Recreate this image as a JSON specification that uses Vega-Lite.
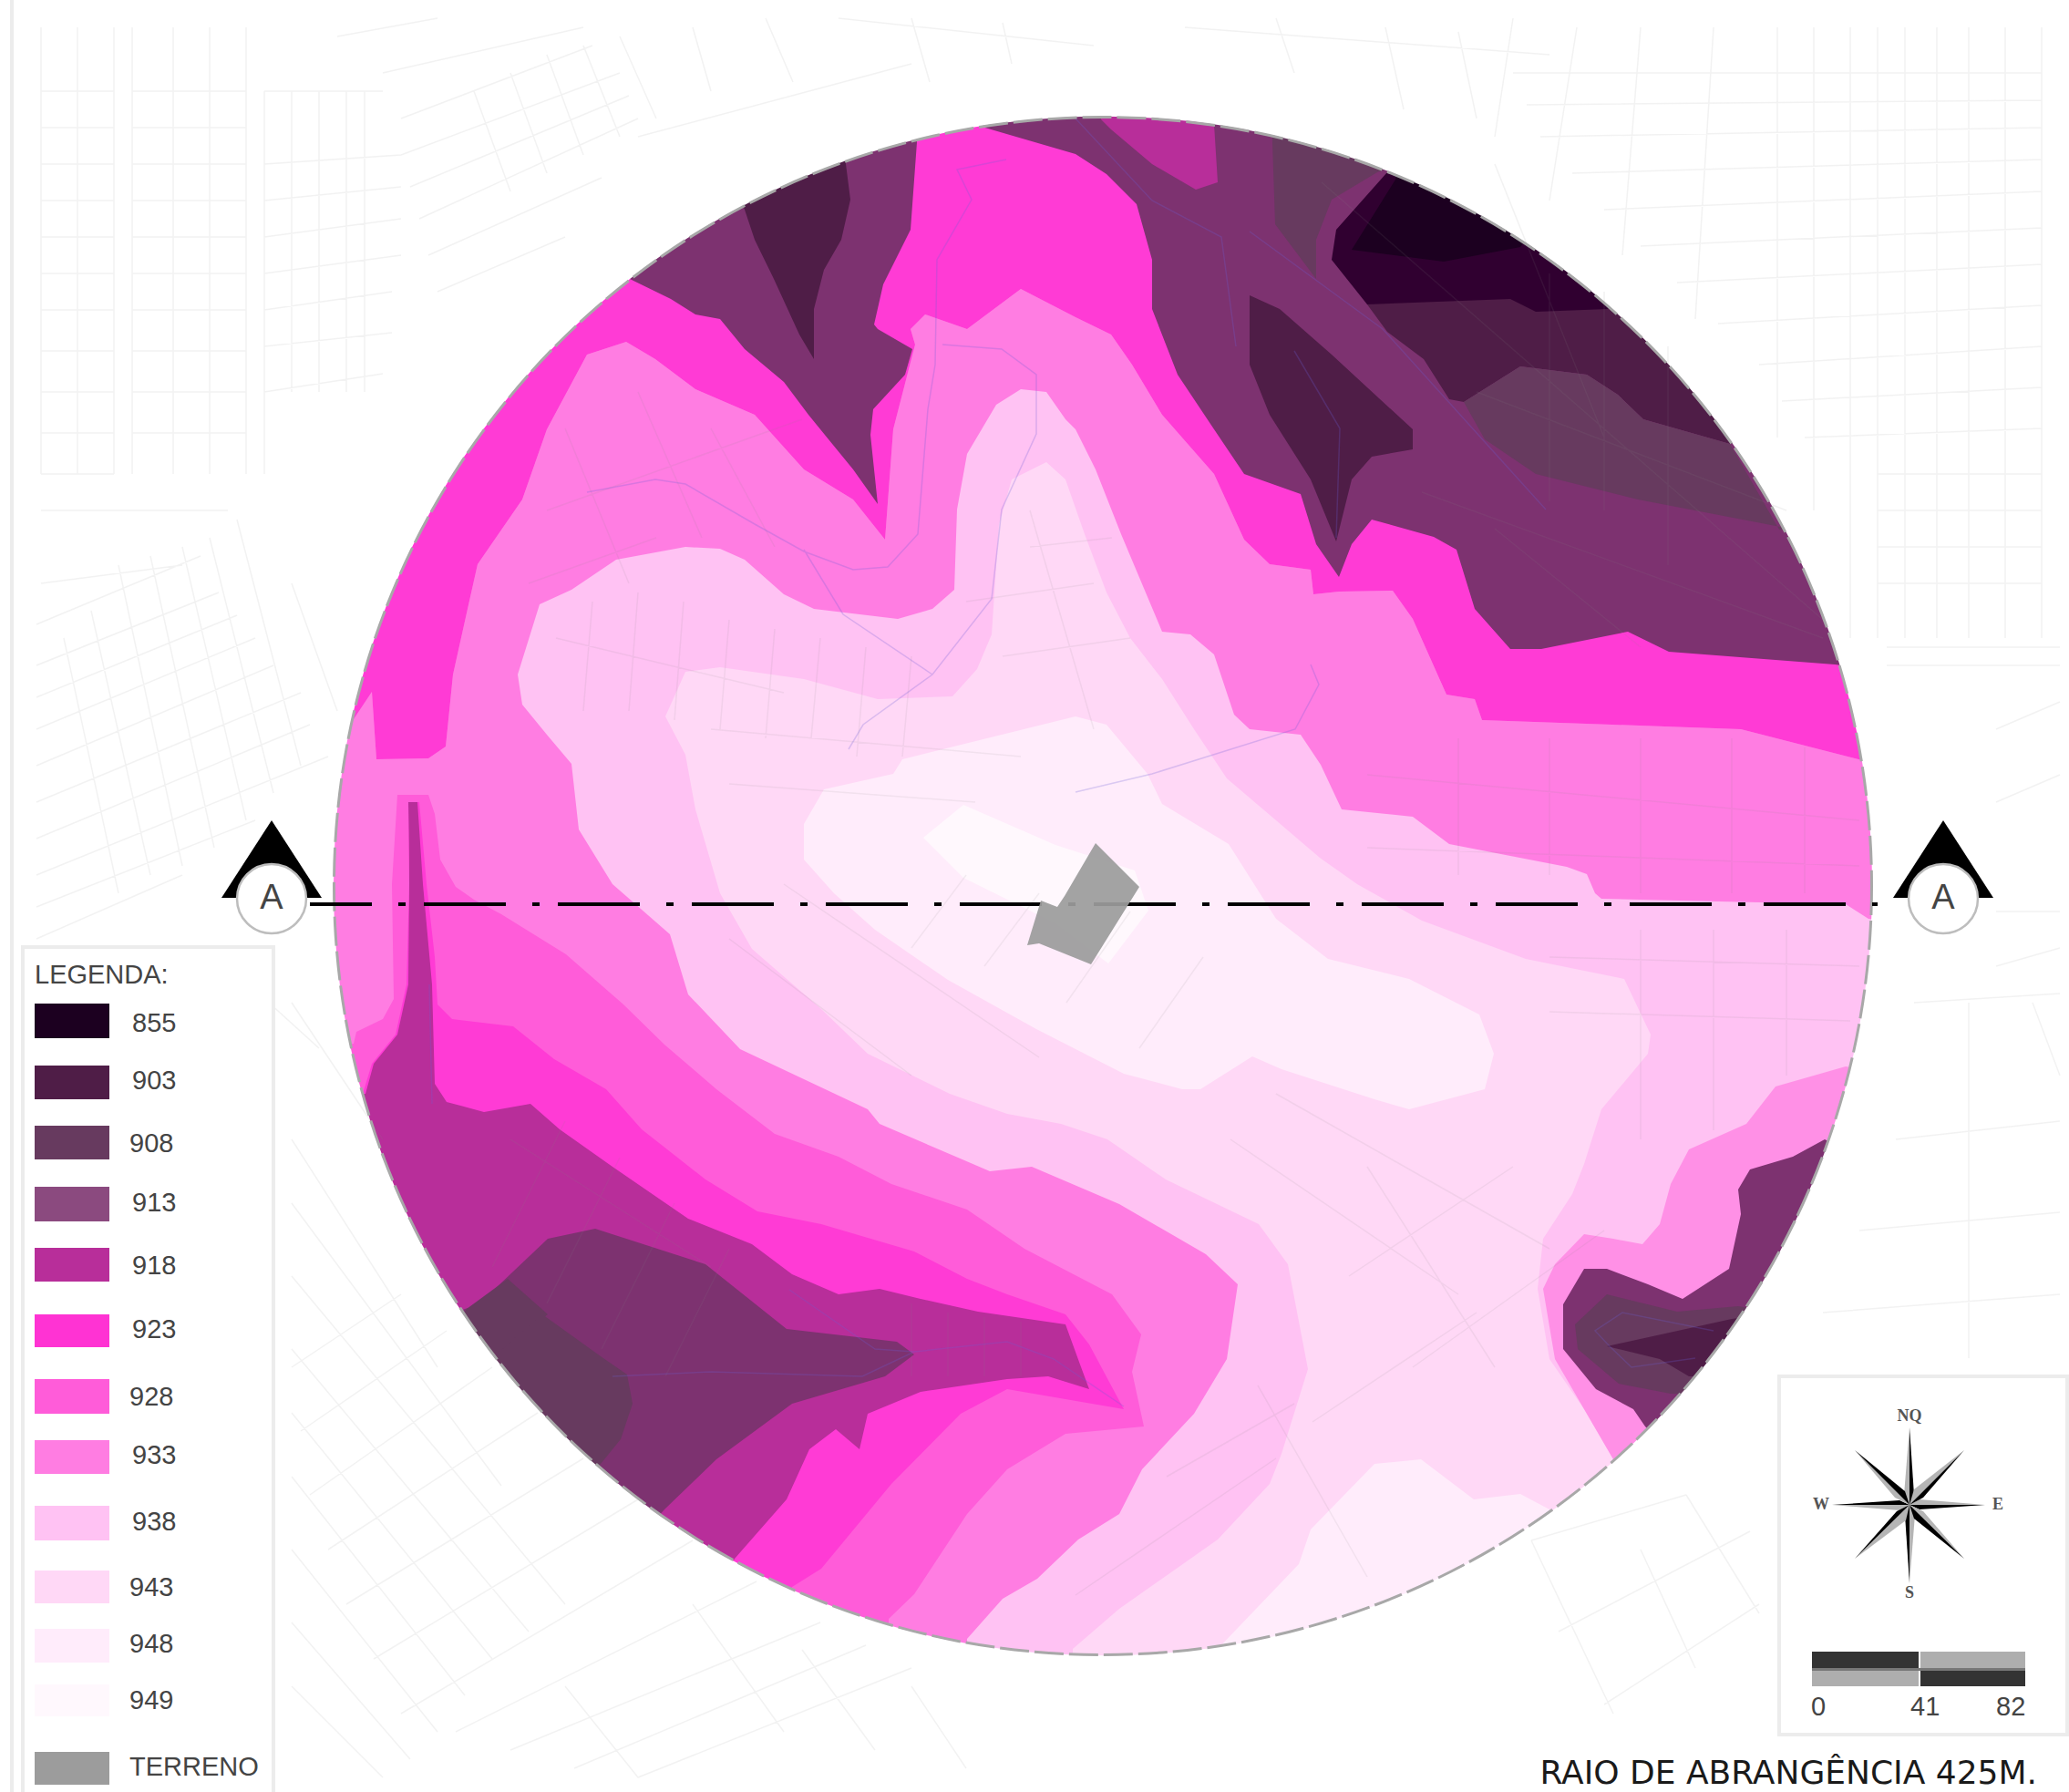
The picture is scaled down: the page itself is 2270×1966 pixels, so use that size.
{
"$schema":"https://vega.github.io/schema/vega-lite/v6.json",
"width":2270,"height":1966,"padding":0,"autosize":{"type":"none"},"background":"white",
"config":{"view":{"stroke":null}},
"projection":{"type":"identity","scale":1,"translate":[0,0]},
"datasets":{
"disc":[{"x":1210,"y":972}],
"contours":[
{"type":"Feature","properties":{"k":"913"},"geometry":{"type":"Polygon","coordinates":[[[695,308],[736,328],[763,345],[790,350],[817,383],[860,419],[887,455],[909,482],[936,515],[963,553],[955,477],[958,449],[993,411],[1001,383],[963,361],[959,356],[969,312],[999,252],[1006,156],[1006,100],[800,170],[640,280],[695,308]]]}},
{"type":"Feature","properties":{"k":"903"},"geometry":{"type":"Polygon","coordinates":[[[810,215],[817,230],[828,263],[849,306],[877,367],[893,394],[893,339],[904,296],[923,263],[933,219],[928,180],[925,150],[810,215]]]}},
{"type":"Feature","properties":{"k":"913"},"geometry":{"type":"Polygon","coordinates":[[[1077,139],[1180,169],[1214,191],[1247,224],[1264,285],[1264,339],[1292,411],[1332,471],[1365,520],[1427,542],[1444,597],[1469,633],[1483,597],[1505,570],[1573,589],[1598,603],[1618,668],[1657,712],[1691,712],[1786,693],[1831,715],[2013,729],[2110,740],[2000,440],[1700,180],[1400,90],[1077,100],[1077,139]]]}},
{"type":"Feature","properties":{"k":"918"},"geometry":{"type":"Polygon","coordinates":[[[1208,110],[1208,131],[1219,142],[1264,180],[1312,208],[1336,200],[1332,136],[1332,100],[1208,110]]]}},
{"type":"Feature","properties":{"k":"903"},"geometry":{"type":"Polygon","coordinates":[[[1371,324],[1404,339],[1461,389],[1550,471],[1550,493],[1505,501],[1483,526],[1466,594],[1438,526],[1393,455],[1371,400],[1371,324]]]}},
{"type":"Feature","properties":{"k":"908"},"geometry":{"type":"Polygon","coordinates":[[[1396,120],[1396,156],[1399,246],[1444,306],[1444,263],[1461,219],[1511,189],[1560,170],[1396,120]]]}},
{"type":"Feature","properties":{"k":"903"},"geometry":{"type":"Polygon","coordinates":[[[1500,334],[1522,364],[1562,394],[1590,438],[1606,441],[1668,402],[1741,411],[1775,433],[1803,460],[1898,487],[1960,480],[1800,300],[1657,310],[1500,334]]]}},
{"type":"Feature","properties":{"k":"908"},"geometry":{"type":"Polygon","coordinates":[[[1606,441],[1668,402],[1741,411],[1775,433],[1803,460],[1898,487],[1952,581],[1990,585],[1797,548],[1685,520],[1629,482],[1606,441]]]}},
{"type":"Feature","properties":{"k":"dk"},"geometry":{"type":"Polygon","coordinates":[[[1522,189],[1466,252],[1461,285],[1500,334],[1657,328],[1685,342],[1764,339],[1800,300],[1560,130],[1522,189]]]}},
{"type":"Feature","properties":{"k":"855"},"geometry":{"type":"Polygon","coordinates":[[[1531,197],[1483,274],[1584,287],[1668,271],[1700,230],[1540,150],[1531,197]]]}},
{"type":"Feature","properties":{"k":"918"},"geometry":{"type":"Polygon","coordinates":[[[448,880],[458,880],[464,970],[474,1080],[477,1189],[490,1209],[531,1220],[582,1211],[614,1239],[672,1280],[755,1337],[825,1365],[869,1398],[920,1420],[965,1414],[1010,1425],[1073,1439],[1169,1453],[1185,1497],[1195,1524],[1150,1510],[1105,1513],[1010,1527],[952,1551],[943,1590],[917,1568],[888,1590],[863,1645],[806,1710],[780,1760],[600,1650],[400,1350],[340,1200],[401,1200],[410,1167],[436,1135],[448,1080],[449,970],[448,880]]]}},
{"type":"Feature","properties":{"k":"913"},"geometry":{"type":"Polygon","coordinates":[[[525,1431],[601,1359],[653,1348],[774,1387],[863,1458],[984,1472],[1003,1486],[971,1510],[869,1540],[786,1601],[729,1656],[690,1700],[470,1450],[525,1431]]]}},
{"type":"Feature","properties":{"k":"908"},"geometry":{"type":"Polygon","coordinates":[[[512,1436],[557,1403],[601,1442],[544,1486],[500,1455],[512,1436]]]}},
{"type":"Feature","properties":{"k":"908"},"geometry":{"type":"Polygon","coordinates":[[[544,1486],[595,1442],[659,1488],[688,1508],[694,1540],[681,1579],[659,1606],[640,1625],[520,1500],[544,1486]]]}},
{"type":"Feature","properties":{"k":"928"},"geometry":{"type":"Polygon","coordinates":[[[340,790],[386,792],[408,759],[413,833],[470,832],[489,819],[497,740],[513,668],[524,619],[573,548],[600,471],[644,389],[687,375],[719,394],[763,427],[828,455],[882,515],[936,548],[971,592],[980,471],[1004,378],[999,361],[1015,345],[1061,361],[1120,317],[1180,348],[1219,367],[1242,400],[1275,455],[1332,520],[1365,592],[1393,619],[1438,625],[1441,652],[1469,649],[1528,648],[1550,679],[1587,762],[1618,767],[1626,790],[1769,795],[1910,800],[2039,833],[2110,850],[2110,1300],[1800,1700],[1400,1860],[869,1790],[869,1741],[901,1721],[978,1628],[1054,1551],[1105,1524],[1233,1546],[1195,1475],[1169,1442],[1105,1420],[1061,1403],[1003,1373],[901,1343],[831,1329],[774,1294],[704,1239],[665,1195],[608,1162],[563,1126],[496,1118],[480,1102],[477,1050],[468,970],[460,880],[448,880],[449,970],[446,1080],[434,1135],[408,1167],[398,1200],[340,1200],[340,790]]]}},
{"type":"Feature","properties":{"k":"933"},"geometry":{"type":"Polygon","coordinates":[[[340,790],[386,792],[408,759],[413,833],[470,832],[489,819],[497,740],[513,668],[524,619],[573,548],[600,471],[644,389],[687,375],[719,394],[763,427],[828,455],[882,515],[936,548],[971,592],[980,471],[1004,378],[999,361],[1015,345],[1061,361],[1120,317],[1180,348],[1219,367],[1242,400],[1275,455],[1332,520],[1365,592],[1393,619],[1438,625],[1441,652],[1469,649],[1528,648],[1550,679],[1587,762],[1618,767],[1626,790],[1769,795],[1910,800],[2039,833],[2110,850],[2110,1400],[1800,1700],[1400,1860],[1050,1860],[975,1810],[975,1776],[1003,1749],[1061,1661],[1105,1612],[1169,1573],[1255,1565],[1242,1505],[1252,1464],[1220,1420],[1124,1370],[1061,1327],[978,1299],[920,1269],[850,1244],[786,1195],[729,1146],[684,1102],[621,1047],[550,1003],[520,987],[500,973],[483,943],[477,893],[470,872],[436,872],[430,970],[432,1096],[420,1118],[391,1132],[388,1145],[340,1150],[340,790]]]}},
{"type":"Feature","properties":{"k":"938"},"geometry":{"type":"Polygon","coordinates":[[[568,740],[592,663],[627,647],[676,614],[752,600],[790,602],[817,614],[860,652],[893,668],[985,679],[1023,668],[1047,647],[1050,559],[1061,498],[1093,444],[1120,427],[1148,430],[1169,460],[1180,471],[1202,515],[1230,586],[1275,693],[1306,696],[1332,718],[1354,784],[1371,800],[1427,806],[1449,839],[1472,888],[1550,896],[1590,926],[1719,951],[1741,959],[1750,980],[1757,986],[1885,989],[2025,992],[2050,1008],[2100,1015],[2100,1400],[1800,1700],[1500,1860],[1061,1860],[1061,1798],[1100,1754],[1138,1732],[1183,1689],[1228,1661],[1253,1612],[1310,1551],[1346,1491],[1358,1409],[1323,1376],[1228,1321],[1132,1280],[1086,1285],[965,1233],[952,1217],[812,1151],[755,1091],[735,1025],[672,970],[635,910],[627,838],[600,806],[573,773],[568,740]]]}},
{"type":"Feature","properties":{"k":"943"},"geometry":{"type":"Polygon","coordinates":[[[1190,586],[1214,650],[1240,700],[1275,745],[1310,800],[1346,854],[1400,900],[1448,941],[1489,970],[1560,1010],[1674,1052],[1782,1074],[1811,1135],[1808,1156],[1757,1217],[1738,1277],[1725,1310],[1693,1359],[1687,1414],[1700,1491],[1738,1546],[1770,1601],[1750,1700],[1500,1860],[1177,1860],[1177,1809],[1228,1765],[1336,1689],[1393,1628],[1406,1595],[1435,1502],[1413,1387],[1381,1343],[1279,1294],[1215,1250],[1164,1233],[1105,1222],[1042,1200],[952,1156],[901,1107],[825,1041],[790,980],[763,888],[752,828],[730,786],[752,737],[790,732],[882,745],[963,767],[1045,764],[1072,734],[1088,696],[1096,575],[1110,526],[1148,507],[1169,526],[1190,586]]]}},
{"type":"Feature","properties":{"k":"948"},"geometry":{"type":"Polygon","coordinates":[[[915,980],[960,1020],[1040,1075],[1137,1129],[1233,1178],[1297,1195],[1317,1195],[1374,1159],[1406,1173],[1508,1206],[1546,1217],[1629,1195],[1639,1156],[1623,1113],[1546,1074],[1457,1052],[1400,1008],[1348,926],[1275,882],[1259,849],[1214,795],[1180,786],[1099,806],[990,833],[980,849],[904,866],[882,904],[882,943],[915,980]]]}},
{"type":"Feature","properties":{"k":"948"},"geometry":{"type":"Polygon","coordinates":[[[1336,1809],[1425,1716],[1438,1678],[1508,1606],[1559,1601],[1617,1645],[1668,1639],[1700,1656],[1720,1720],[1400,1860],[1336,1860],[1336,1809]]]}},
{"type":"Feature","properties":{"k":"949"},"geometry":{"type":"Polygon","coordinates":[[[1013,919],[1057,883],[1158,927],[1245,955],[1260,999],[1216,1057],[1158,1013],[1057,963],[1013,919]]]}},
{"type":"Feature","properties":{"k":"lobe"},"geometry":{"type":"Polygon","coordinates":[[[2025,1170],[1948,1192],[1916,1233],[1853,1261],[1833,1299],[1821,1343],[1802,1365],[1770,1359],[1738,1354],[1706,1387],[1693,1414],[1706,1491],[1738,1546],[1770,1601],[1800,1640],[1900,1560],[2050,1300],[2080,1180],[2025,1170]]]}},
{"type":"Feature","properties":{"k":"913"},"geometry":{"type":"Polygon","coordinates":[[[2002,1250],[1967,1269],[1920,1283],[1907,1305],[1910,1332],[1897,1392],[1846,1425],[1808,1409],[1763,1392],[1738,1392],[1715,1431],[1715,1480],[1751,1524],[1792,1546],[1805,1565],[1830,1590],[2040,1270],[2002,1250]]]}},
{"type":"Feature","properties":{"k":"908"},"geometry":{"type":"Polygon","coordinates":[[[1907,1433],[1840,1439],[1763,1420],[1728,1453],[1731,1480],[1776,1518],[1833,1529],[1880,1530],[1950,1440],[1907,1433]]]}},
{"type":"Feature","properties":{"k":"903"},"geometry":{"type":"Polygon","coordinates":[[[1763,1477],[1900,1447],[1950,1440],[1890,1510],[1853,1510],[1821,1491],[1763,1477]]]}}
],
"streets":[
{"type":"Feature","properties":{"k":"s"},"geometry":{"type":"MultiLineString","coordinates":[
[[45,30],[45,520]],[[85,30],[85,520]],[[125,30],[125,520]],[[45,100],[125,100]],[[45,140],[125,140]],[[45,180],[125,180]],[[45,220],[125,220]],[[45,260],[125,260]],[[45,300],[125,300]],[[45,340],[125,340]],[[45,385],[125,385]],[[45,430],[125,430]],[[45,475],[125,475]],[[45,520],[125,520]],
[[145,30],[145,520]],[[190,30],[190,520]],[[230,30],[230,520]],[[270,30],[270,520]],[[145,100],[270,100]],[[145,140],[270,140]],[[145,180],[270,180]],[[145,220],[270,220]],[[145,260],[270,260]],[[145,300],[270,300]],[[145,340],[270,340]],[[145,385],[270,385]],[[145,430],[270,430]],[[145,475],[270,475]],
[[290,100],[420,100]],[[290,180],[440,170]],[[290,260],[440,240]],[[290,340],[430,320]],[[290,100],[290,520]],[[320,100],[320,430]],[[350,100],[350,430]],[[380,100],[380,430]],[[400,100],[400,430]],[[290,430],[420,410]],[[290,220],[440,205]],[[290,300],[440,280]],[[290,380],[430,365]],
[[370,40],[480,20]],[[420,80],[640,30]],[[440,170],[680,80]],[[460,240],[700,130]],[[480,320],[620,260]],[[440,130],[650,50]],[[450,205],[690,105]],[[470,280],[660,195]],[[520,100],[560,210]],[[560,80],[600,190]],[[600,60],[640,170]],[[640,50],[680,150]],[[680,40],[720,130]],
[[760,30],[780,100]],[[840,20],[870,90]],[[920,20],[1200,50]],[[700,150],[1000,70]],[[1000,20],[1020,90]],[[1100,25],[1110,70]],[[1300,30],[1700,60]],[[1400,20],[1420,80]],[[1520,30],[1540,120]],[[1600,35],[1620,130]],
[[1660,20],[1640,150]],[[1730,30],[1700,220]],[[1800,30],[1780,280]],[[1880,30],[1860,350]],[[1660,80],[2240,80]],[[1690,150],[2240,140]],[[1760,230],[2240,210]],[[1840,310],[2240,290]],[[1930,400],[2240,380]],[[1980,480],[2240,470]],[[1675,115],[2240,110]],[[1725,190],[2240,175]],[[1800,270],[2240,250]],[[1885,355],[2240,335]],[[1955,440],[2240,425]],
[[1950,30],[1950,480]],[[1990,30],[1990,560]],[[2030,30],[2030,700]],[[2060,30],[2060,700]],[[2090,30],[2090,700]],[[2125,30],[2125,700]],[[2160,30],[2160,700]],[[2200,30],[2200,700]],[[2240,30],[2240,700]],[[2060,520],[2240,520]],[[2060,560],[2240,560]],[[2060,600],[2240,600]],[[2060,640],[2240,640]],[[2070,710],[2260,710]],[[2070,730],[2260,730]],
[[2190,800],[2260,770]],[[2190,880],[2260,850]],[[2190,1000],[2260,1000]],[[2190,1060],[2260,1040]],[[2230,1100],[2260,1180]],[[2100,1100],[2260,1090]],[[2080,1250],[2260,1230]],[[2040,1350],[2260,1330]],[[2000,1440],[2260,1420]],[[2160,1100],[2160,1490]],
[[45,560],[250,560]],[[45,640],[200,620]],[[40,730],[240,650]],[[40,800],[280,700]],[[40,880],[330,760]],[[40,960],[360,830]],[[40,1030],[200,960]],[[40,685],[220,610]],[[40,765],[260,675]],[[40,840],[300,730]],[[40,920],[340,795]],[[40,995],[280,900]],
[[70,700],[130,980]],[[100,670],[165,960]],[[130,620],[200,950]],[[165,610],[235,930]],[[200,600],[270,900]],[[230,590],[300,870]],[[260,570],[330,840]],[[320,640],[370,780]],
[[240,1050],[350,1150]],[[320,1100],[420,1250]],[[320,1250],[480,1500]],[[320,1400],[620,1760]],[[320,1550],[540,1820]],[[320,1700],[480,1900]],[[320,1850],[420,1950]],[[320,1320],[550,1630]],[[320,1480],[580,1790]],[[320,1620],[510,1860]],[[320,1780],[450,1930]],
[[320,1500],[440,1420]],[[340,1640],[540,1500]],[[380,1760],[640,1600]],[[440,1880],[760,1690]],[[560,1920],[900,1780]],[[700,1950],[1000,1830]],[[620,1850],[700,1950]],[[760,1760],[860,1900]],[[880,1810],[960,1920]],[[1000,1850],[1060,1940]],[[330,1570],[490,1460]],[[360,1700],[590,1550]],[[410,1820],[700,1645]],[[500,1900],[830,1735]],[[630,1940],[950,1805]],
[[1680,1690],[1850,1640]],[[1710,1790],[1920,1680]],[[1760,1870],[1930,1760]],[[1680,1690],[1770,1880]],[[1850,1640],[1930,1770]],[[1800,1700],[1860,1830]],
[[620,470],[690,640]],[[700,430],[770,590]],[[780,470],[850,600]],[[600,560],[880,460]],[[580,640],[720,590]],
[[610,700],[860,760]],[[650,660],[640,780]],[[700,650],[690,780]],[[750,660],[740,790]],[[800,680],[790,800]],[[850,690],[840,810]],[[900,700],[890,810]],[[950,710],[940,830]],[[1000,720],[990,830]],
[[780,800],[1120,830]],[[800,860],[1070,880]],[[800,1030],[1000,1180]],[[860,970],[1140,1160]],[[1000,1040],[1060,960]],[[1080,1060],[1140,980]],[[1170,1100],[1240,1000]],[[1250,1150],[1320,1050]],
[[1130,560],[1200,800]],[[1060,660],[1200,640]],[[1100,720],[1240,700]],[[1130,600],[1220,590]],
[[1500,850],[2040,900]],[[1600,810],[1600,960]],[[1700,810],[1700,960]],[[1800,810],[1800,980]],[[1900,810],[1900,980]],[[1980,820],[1980,980]],[[1500,930],[2040,950]],
[[1700,1050],[2040,1060]],[[1700,1110],[2030,1120]],[[1800,1020],[1800,1250]],[[1880,1020],[1880,1240]],[[1960,1020],[1960,1180]],
[[1350,1250],[1600,1420]],[[1400,1200],[1700,1370]],[[1480,1400],[1660,1280]],[[1550,1500],[1760,1350]],[[1440,1560],[1620,1440]],[[1500,1280],[1640,1500]],[[1380,1520],[1500,1730]],[[1280,1620],[1420,1540]],[[1180,1750],[1400,1600]],
[[560,1250],[780,1390]],[[620,1230],[540,1390]],[[680,1270],[600,1430]],[[740,1320],[660,1480]],[[800,1370],[730,1510]],[[1000,1430],[1000,1510]],[[1040,1440],[1040,1510]],[[1080,1445],[1080,1510]],[[1120,1450],[1120,1510]],
[[1640,180],[1760,480]],[[1700,300],[1700,550]],[[1760,320],[1760,560]],[[1830,380],[1830,620]],[[1620,430],[1960,560]],[[1640,580],[1800,710]],[[1560,540],[2000,700]],[[1450,200],[2000,680]]
]}}
],
"blue":[
{"type":"Feature","properties":{"k":"b"},"geometry":{"type":"MultiLineString","coordinates":[
[[644,540],[719,526],[752,531],[828,575],[882,605],[936,625],[974,622],[1007,586],[1018,449],[1026,400],[1028,285],[1066,219],[1050,186],[1104,175]],
[[931,822],[947,795],[1023,740],[1088,657],[1099,559],[1137,476],[1137,411],[1099,383],[1034,378]],
[[882,603],[925,674],[1023,740]],
[[1180,869],[1264,849],[1421,800],[1447,751],[1438,729]],
[[1371,254],[1517,361],[1696,559]],
[[1180,130],[1264,220],[1340,260],[1356,380]],
[[1420,385],[1470,470],[1466,590]],
[[672,1510],[780,1505],[946,1510],[1003,1483],[1105,1472],[1156,1491],[1233,1543]],
[[866,1415],[960,1480],[1003,1483]],
[[471,1080],[474,1211]],
[[1766,1477],[1750,1460],[1780,1440],[1880,1460]],
[[1766,1477],[1790,1500],[1860,1490]]
]}}
],
"section":[{"x":340,"y":992},{"x":2060,"y":992}],
"terrain":[{"type":"Feature","properties":{"k":"ter"},"geometry":{"type":"Polygon","coordinates":[[[1202,925],[1250,973],[1197,1058],[1140,1035],[1127,1037],[1142,988],[1160,995],[1168,983],[1202,925]]]}}],
"tri":[
{"type":"Feature","properties":{"k":"t"},"geometry":{"type":"Polygon","coordinates":[[[298,900],[353,985],[243,985],[298,900]]]}},
{"type":"Feature","properties":{"k":"t"},"geometry":{"type":"Polygon","coordinates":[[[2132,900],[2187,985],[2077,985],[2132,900]]]}}
],
"markers":[{"x":298,"y":986,"t":"A"},{"x":2132,"y":986,"t":"A"}],
"panels":[
{"type":"Feature","properties":{"k":"p"},"geometry":{"type":"Polygon","coordinates":[[[25,1039],[300,1039],[300,1980],[25,1980],[25,1039]]]}},
{"type":"Feature","properties":{"k":"p"},"geometry":{"type":"Polygon","coordinates":[[[1952,1510],[2268,1510],[2268,1903],[1952,1903],[1952,1510]]]}},
{"type":"Feature","properties":{"k":"p"},"geometry":{"type":"Polygon","coordinates":[[[-20,-20],[13,-20],[13,1990],[-20,1990],[-20,-20]]]}}
],
"shapes":[
{"type":"Feature","properties":{"k":"855"},"geometry":{"type":"Polygon","coordinates":[[[38,1101],[120,1101],[120,1139],[38,1139],[38,1101]]]}},
{"type":"Feature","properties":{"k":"903"},"geometry":{"type":"Polygon","coordinates":[[[38,1169],[120,1169],[120,1206],[38,1206],[38,1169]]]}},
{"type":"Feature","properties":{"k":"908"},"geometry":{"type":"Polygon","coordinates":[[[38,1235],[120,1235],[120,1272],[38,1272],[38,1235]]]}},
{"type":"Feature","properties":{"k":"L913"},"geometry":{"type":"Polygon","coordinates":[[[38,1302],[120,1302],[120,1340],[38,1340],[38,1302]]]}},
{"type":"Feature","properties":{"k":"918"},"geometry":{"type":"Polygon","coordinates":[[[38,1369],[120,1369],[120,1406],[38,1406],[38,1369]]]}},
{"type":"Feature","properties":{"k":"923"},"geometry":{"type":"Polygon","coordinates":[[[38,1442],[120,1442],[120,1478],[38,1478],[38,1442]]]}},
{"type":"Feature","properties":{"k":"928"},"geometry":{"type":"Polygon","coordinates":[[[38,1513],[120,1513],[120,1551],[38,1551],[38,1513]]]}},
{"type":"Feature","properties":{"k":"933"},"geometry":{"type":"Polygon","coordinates":[[[38,1580],[120,1580],[120,1617],[38,1617],[38,1580]]]}},
{"type":"Feature","properties":{"k":"938"},"geometry":{"type":"Polygon","coordinates":[[[38,1652],[120,1652],[120,1690],[38,1690],[38,1652]]]}},
{"type":"Feature","properties":{"k":"943"},"geometry":{"type":"Polygon","coordinates":[[[38,1723],[120,1723],[120,1759],[38,1759],[38,1723]]]}},
{"type":"Feature","properties":{"k":"948"},"geometry":{"type":"Polygon","coordinates":[[[38,1787],[120,1787],[120,1824],[38,1824],[38,1787]]]}},
{"type":"Feature","properties":{"k":"949"},"geometry":{"type":"Polygon","coordinates":[[[38,1848],[120,1848],[120,1883],[38,1883],[38,1848]]]}},
{"type":"Feature","properties":{"k":"ter"},"geometry":{"type":"Polygon","coordinates":[[[38,1922],[120,1922],[120,1958],[38,1958],[38,1922]]]}},
{"type":"Feature","properties":{"k":"bdark"},"geometry":{"type":"Polygon","coordinates":[[[1988,1812],[2105,1812],[2105,1830],[1988,1830],[1988,1812]]]}},
{"type":"Feature","properties":{"k":"blight"},"geometry":{"type":"Polygon","coordinates":[[[2107,1812],[2222,1812],[2222,1830],[2107,1830],[2107,1812]]]}},
{"type":"Feature","properties":{"k":"bmid"},"geometry":{"type":"Polygon","coordinates":[[[1988,1830],[2222,1830],[2222,1833],[1988,1833],[1988,1830]]]}},
{"type":"Feature","properties":{"k":"blight"},"geometry":{"type":"Polygon","coordinates":[[[1988,1833],[2105,1833],[2105,1850],[1988,1850],[1988,1833]]]}},
{"type":"Feature","properties":{"k":"bdark"},"geometry":{"type":"Polygon","coordinates":[[[2107,1833],[2222,1833],[2222,1850],[2107,1850],[2107,1833]]]}},
{"type":"Feature","properties":{"k":"clight"},"geometry":{"type":"Polygon","coordinates":[[[2095,1566],[2089,1640],[2095,1651],[2095,1566]]]}},
{"type":"Feature","properties":{"k":"cdark"},"geometry":{"type":"Polygon","coordinates":[[[2095,1566],[2100,1640],[2095,1651],[2095,1566]]]}},
{"type":"Feature","properties":{"k":"cdark"},"geometry":{"type":"Polygon","coordinates":[[[2095,1737],[2090,1662],[2095,1651],[2095,1737]]]}},
{"type":"Feature","properties":{"k":"clight"},"geometry":{"type":"Polygon","coordinates":[[[2095,1737],[2101,1662],[2095,1651],[2095,1737]]]}},
{"type":"Feature","properties":{"k":"cdark"},"geometry":{"type":"Polygon","coordinates":[[[2178,1651],[2106,1656],[2095,1651],[2178,1651]]]}},
{"type":"Feature","properties":{"k":"clight"},"geometry":{"type":"Polygon","coordinates":[[[2178,1651],[2106,1645],[2095,1651],[2178,1651]]]}},
{"type":"Feature","properties":{"k":"cdark"},"geometry":{"type":"Polygon","coordinates":[[[2010,1651],[2084,1646],[2095,1651],[2010,1651]]]}},
{"type":"Feature","properties":{"k":"clight"},"geometry":{"type":"Polygon","coordinates":[[[2010,1651],[2084,1657],[2095,1651],[2010,1651]]]}},
{"type":"Feature","properties":{"k":"clight"},"geometry":{"type":"Polygon","coordinates":[[[2155,1591],[2100,1634],[2095,1651],[2155,1591]]]}},
{"type":"Feature","properties":{"k":"cdark"},"geometry":{"type":"Polygon","coordinates":[[[2155,1591],[2110,1643],[2095,1651],[2155,1591]]]}},
{"type":"Feature","properties":{"k":"clight"},"geometry":{"type":"Polygon","coordinates":[[[2035,1591],[2079,1643],[2095,1651],[2035,1591]]]}},
{"type":"Feature","properties":{"k":"cdark"},"geometry":{"type":"Polygon","coordinates":[[[2035,1591],[2090,1636],[2095,1651],[2035,1591]]]}},
{"type":"Feature","properties":{"k":"clight"},"geometry":{"type":"Polygon","coordinates":[[[2035,1710],[2091,1668],[2095,1651],[2035,1710]]]}},
{"type":"Feature","properties":{"k":"cdark"},"geometry":{"type":"Polygon","coordinates":[[[2035,1710],[2081,1658],[2095,1651],[2035,1710]]]}},
{"type":"Feature","properties":{"k":"clight"},"geometry":{"type":"Polygon","coordinates":[[[2155,1710],[2110,1658],[2095,1651],[2155,1710]]]}},
{"type":"Feature","properties":{"k":"cdark"},"geometry":{"type":"Polygon","coordinates":[[[2155,1710],[2100,1666],[2095,1651],[2155,1710]]]}}
],
"labels":[
{"x":38,"y":1070,"t":"LEGENDA:"},
{"x":145,"y":1123,"t":"855"},{"x":145,"y":1186,"t":"903"},{"x":142,"y":1255,"t":"908"},{"x":145,"y":1320,"t":"913"},{"x":145,"y":1389,"t":"918"},{"x":145,"y":1459,"t":"923"},{"x":142,"y":1533,"t":"928"},{"x":145,"y":1597,"t":"933"},{"x":145,"y":1670,"t":"938"},{"x":142,"y":1742,"t":"943"},{"x":142,"y":1804,"t":"948"},{"x":142,"y":1866,"t":"949"},{"x":142,"y":1939,"t":"TERRENO"},
{"x":1987,"y":1873,"t":"0"},{"x":2096,"y":1873,"t":"41"},{"x":2190,"y":1873,"t":"82"}
],
"compass":[{"x":2095,"y":1554,"t":"NQ"},{"x":1998,"y":1651,"t":"W"},{"x":2192,"y":1651,"t":"E"},{"x":2095,"y":1748,"t":"S"}],
"caption":[{"x":2235,"y":1946,"t":"RAIO DE ABRANGÊNCIA 425M."}]
},
"layer":[
{"data":{"name":"disc"},"mark":{"type":"point","shape":"circle","filled":true,"fill":"#ff3bd5","stroke":null,"size":2856100,"opacity":1},"encoding":{"longitude":{"field":"x","type":"quantitative"},"latitude":{"field":"y","type":"quantitative"}}},
{"data":{"name":"contours"},"mark":{"type":"geoshape","stroke":null},"encoding":{"color":{"field":"properties.k","type":"nominal","legend":null,"scale":{"domain":["855","dk","903","908","913","L913","918","923","928","933","lobe","938","943","948","949","ter","bdark","blight","bmid","cdark","clight"],"range":["#1c0020","#300030","#4f1d47","#673a5f","#7d3270","#8b4a7f","#b82e9a","#ff33d3","#ff5cd9","#ff7de2","#ff90e6","#ffc2f3","#ffd8f6","#ffecfb","#fff8fd","#9c9c9c","#333333","#aeaeae","#777777","#000000","#b5b5b5"]}}}},
{"data":{"name":"disc"},"mark":{"type":"point","shape":"circle","filled":false,"fill":null,"stroke":"white","strokeWidth":300,"size":3952144,"opacity":1},"encoding":{"longitude":{"field":"x","type":"quantitative"},"latitude":{"field":"y","type":"quantitative"}}},
{"data":{"name":"streets"},"mark":{"type":"geoshape","filled":false,"fill":null,"stroke":"#8a8a8a","strokeWidth":1.5,"strokeOpacity":0.11}},
{"data":{"name":"blue"},"mark":{"type":"geoshape","filled":false,"fill":null,"stroke":"#6a60d8","strokeWidth":1.5,"strokeOpacity":0.25}},
{"data":{"name":"disc"},"mark":{"type":"point","shape":"circle","filled":false,"fill":null,"stroke":"#a8a8a8","strokeWidth":3,"strokeDash":[32,6],"size":2845969,"opacity":1},"encoding":{"longitude":{"field":"x","type":"quantitative"},"latitude":{"field":"y","type":"quantitative"}}},
{"data":{"name":"section"},"mark":{"type":"line","color":"black","strokeWidth":4,"strokeDash":[90,29,8,20],"strokeDashOffset":22},"encoding":{"longitude":{"field":"x","type":"quantitative"},"latitude":{"field":"y","type":"quantitative"}}},
{"data":{"name":"terrain"},"mark":{"type":"geoshape","fill":"#9c9c9c","stroke":null,"opacity":0.93}},
{"data":{"name":"tri"},"mark":{"type":"geoshape","fill":"#000000","stroke":null}},
{"data":{"name":"markers"},"mark":{"type":"point","shape":"circle","filled":true,"fill":"white","stroke":"#bdbdbd","strokeWidth":2.5,"size":5776,"opacity":1},"encoding":{"longitude":{"field":"x","type":"quantitative"},"latitude":{"field":"y","type":"quantitative"}}},
{"data":{"name":"markers"},"mark":{"type":"text","font":"Liberation Sans","fontSize":38,"color":"#444444","align":"center","baseline":"middle"},"encoding":{"longitude":{"field":"x","type":"quantitative"},"latitude":{"field":"y","type":"quantitative"},"text":{"field":"t"}}},
{"data":{"name":"panels"},"mark":{"type":"geoshape","fill":"white","stroke":"#ececec","strokeWidth":4}},
{"data":{"name":"shapes"},"mark":{"type":"geoshape","stroke":null},"encoding":{"color":{"field":"properties.k","type":"nominal","legend":null,"scale":{"domain":["855","dk","903","908","913","L913","918","923","928","933","lobe","938","943","948","949","ter","bdark","blight","bmid","cdark","clight"],"range":["#1c0020","#300030","#4f1d47","#673a5f","#7d3270","#8b4a7f","#b82e9a","#ff33d3","#ff5cd9","#ff7de2","#ff90e6","#ffc2f3","#ffd8f6","#ffecfb","#fff8fd","#9c9c9c","#333333","#aeaeae","#777777","#000000","#b5b5b5"]}}}},
{"data":{"name":"labels"},"mark":{"type":"text","font":"Liberation Sans","fontSize":29,"color":"#444444","align":"left","baseline":"middle"},"encoding":{"longitude":{"field":"x","type":"quantitative"},"latitude":{"field":"y","type":"quantitative"},"text":{"field":"t"}}},
{"data":{"name":"compass"},"mark":{"type":"text","font":"Liberation Serif","fontWeight":"bold","fontSize":18,"color":"#555555","align":"center","baseline":"middle"},"encoding":{"longitude":{"field":"x","type":"quantitative"},"latitude":{"field":"y","type":"quantitative"},"text":{"field":"t"}}},
{"data":{"name":"caption"},"mark":{"type":"text","font":"DejaVu Sans","fontSize":36,"color":"#1a1a1a","align":"right","baseline":"middle"},"encoding":{"longitude":{"field":"x","type":"quantitative"},"latitude":{"field":"y","type":"quantitative"},"text":{"field":"t"}}}
]
}
